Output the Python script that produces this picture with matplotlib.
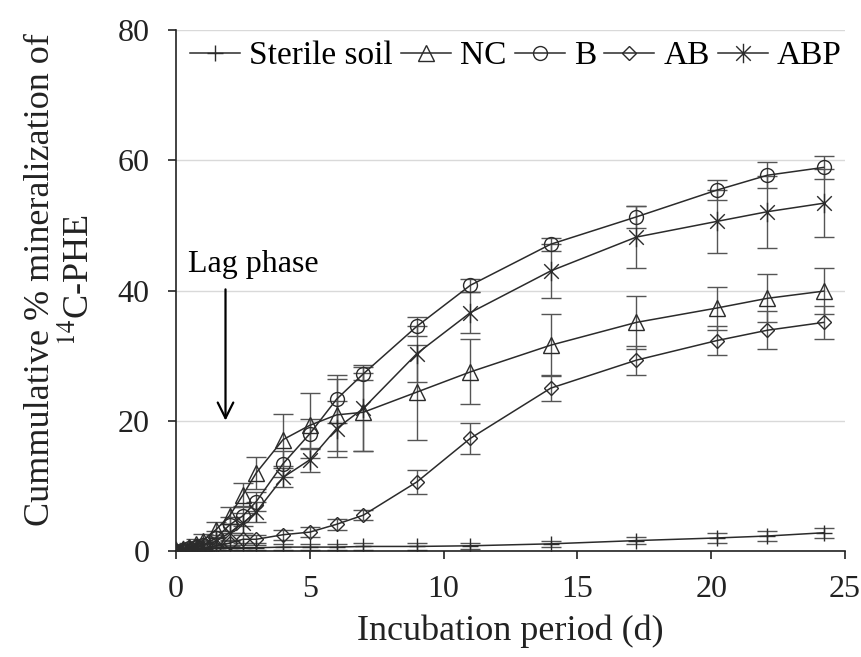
import matplotlib
matplotlib.use("Agg")
import matplotlib.pyplot as plt
from matplotlib.path import Path

plt.rcParams['font.family'] = ['Liberation Serif', 'DejaVu Serif']
plt.rcParams['mathtext.fontset'] = 'stix'

# sampling days (d)
days = [0, 0.25, 0.5, 0.75, 1, 1.5, 2, 2.5, 3, 4, 5, 6, 7, 9, 11, 14, 17.2, 20.2, 22.1, 24.2]

# cumulative % mineralization of 14C-PHE
sterile = [0, 0.2, 0.3, 0.4, 0.4, 0.5, 0.5, 0.5, 0.5, 0.6, 0.6, 0.6, 0.7, 0.7, 0.8, 1.1, 1.6, 2.0, 2.3, 2.8]
sterile_err = [0.1, 0.2, 0.2, 0.3, 0.3, 0.3, 0.4, 0.4, 0.4, 0.5, 0.5, 0.5, 0.5, 0.5, 0.5, 0.5, 0.6, 0.8, 0.7, 0.8]

nc = [0, 0.3, 0.6, 1.0, 1.6, 3.3, 5.4, 8.6, 12.0, 17.1, 19.3, 20.9, 21.3, 24.4, 27.5, 31.6, 35.1, 37.3, 38.8, 39.9]
nc_err = [0.3, 0.5, 0.6, 0.8, 1.0, 1.2, 1.3, 1.8, 2.5, 4.0, 5.0, 5.5, 6.0, 7.3, 5.0, 4.8, 4.1, 3.3, 3.7, 3.5]

b = [0, 0.2, 0.4, 0.6, 0.9, 2.0, 4.0, 5.4, 7.6, 13.4, 18.0, 23.3, 27.2, 34.5, 40.8, 47.1, 51.3, 55.4, 57.7, 58.9]
b_err = [0.2, 0.4, 0.5, 0.6, 0.8, 1.0, 1.2, 1.5, 1.5, 2.0, 2.3, 3.7, 1.0, 1.5, 1.0, 1.0, 1.7, 1.5, 2.0, 1.8]

ab = [0, 0.1, 0.2, 0.3, 0.4, 0.8, 1.2, 1.8, 1.8, 2.5, 2.9, 4.1, 5.5, 10.6, 17.3, 25.0, 29.3, 32.3, 33.9, 35.1]
ab_err = [0.1, 0.2, 0.2, 0.3, 0.3, 0.4, 0.5, 0.6, 0.6, 0.8, 0.8, 0.8, 0.8, 1.8, 2.4, 2.0, 2.2, 2.2, 2.9, 2.5]

abp = [0, 0.2, 0.3, 0.5, 0.8, 1.5, 2.8, 4.3, 6.0, 11.3, 14.0, 18.8, 21.9, 30.3, 36.6, 43.0, 48.2, 50.6, 52.1, 53.4]
abp_err = [0.2, 0.3, 0.5, 0.6, 0.8, 1.0, 1.3, 1.5, 1.5, 1.5, 1.8, 4.3, 6.6, 4.3, 3.1, 4.1, 4.7, 4.9, 5.5, 5.2]

labels = ['Sterile soil', 'NC', 'B', 'AB', 'ABP']

# excel-like star: vertical stroke plus an X
star = Path([(0, -1), (0, 1), (-0.75, -0.75), (0.75, 0.75), (-0.75, 0.75), (0.75, -0.75)],
            [Path.MOVETO, Path.LINETO, Path.MOVETO, Path.LINETO, Path.MOVETO, Path.LINETO])

series = [
    (sterile, sterile_err, '+', 12),
    (nc, nc_err, '^', 11),
    (b, b_err, 'o', 10),
    (ab, ab_err, 'D', 7.5),
    (abp, abp_err, star, 14),
]

line_col = '#2b2b2b'
err_col = '#555555'

fig = plt.figure(figsize=(8.61, 6.57), dpi=100)
ax = fig.add_axes([176 / 861, 1 - 551 / 657, 669 / 861, 521 / 657])

for (vals, errs, mk, ms), lab in zip(series, labels):
    ax.errorbar(days, vals, yerr=errs, fmt='none', ecolor=err_col, elinewidth=1.0,
                capsize=7, capthick=1.0, zorder=2)
    ax.plot(days, vals, color=line_col, lw=1.1, marker=mk, ms=ms, mfc='none',
            mec=line_col, mew=1.0, label=lab, zorder=3)

ax.set_xlim(0, 25)
ax.set_ylim(0, 80)
ax.set_xticks([0, 5, 10, 15, 20, 25])
ax.set_yticks([0, 20, 40, 60, 80])
ax.yaxis.grid(True, color='#d9d9d9', lw=1.0)
ax.set_axisbelow(True)
for side in ['top', 'right']:
    ax.spines[side].set_visible(False)
for side in ['left', 'bottom']:
    ax.spines[side].set_color('#222222')
    ax.spines[side].set_linewidth(1.2)
ax.tick_params(axis='both', direction='out', length=6, width=1.2, color='#222222',
               labelsize=23, labelcolor='#222222')
ax.tick_params(axis='y', pad=13)
ax.tick_params(axis='x', pad=11)

ax.set_xlabel('Incubation period (d)', fontsize=26, color='#222222', labelpad=8)
fig.text(60 / 861, 1 - 280 / 657, 'Cummulative % mineralization of\n$^{14}$C-PHE',
         rotation=90, ha='center', va='center', multialignment='center',
         fontsize=26, color='#222222', linespacing=1.15)

# lag phase marker
ax.text(2.9, 44.0, 'Lag phase', ha='center', va='center', fontsize=23, color='black')
ax.annotate('', xy=(1.85, 19.6), xytext=(1.85, 40.6),
            arrowprops=dict(arrowstyle='->', lw=1.6, color='black', mutation_scale=28))

ax.legend(loc='center left', bbox_to_anchor=((190 - 176) / 669, (551 - 56) / 521),
          ncol=5, frameon=False, fontsize=24, borderpad=0, borderaxespad=0,
          handlelength=1.5, handletextpad=0.27, columnspacing=0.25)

fig.savefig('out.png', dpi=100)
